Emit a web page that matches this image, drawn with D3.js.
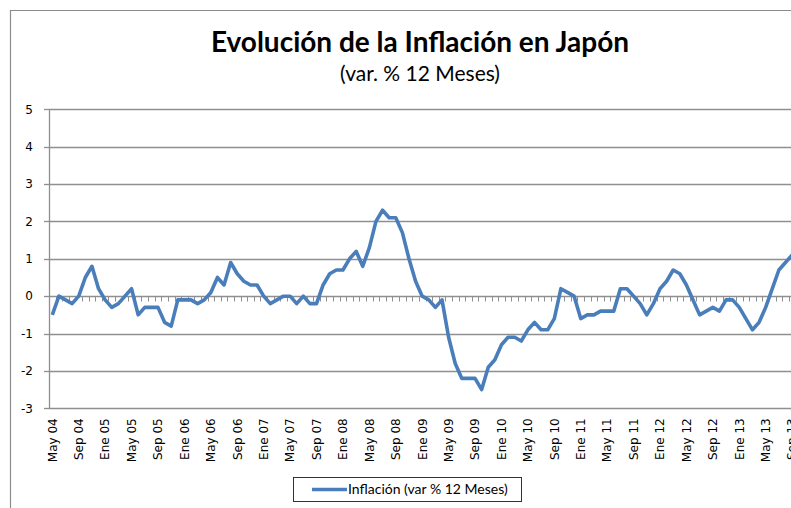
<!DOCTYPE html>
<html>
<head>
<meta charset="utf-8">
<script src="https://cdn.jsdelivr.net/npm/d3@7"></script>
<style>
  body { margin: 0; background: #fff; }
  svg { display: block; }
  .title { font-family: Lato, "Open Sans", sans-serif; font-weight: bold; font-size: 28px; fill: #000; }
  .subtitle { font-family: Lato, "Open Sans", sans-serif; font-size: 21px; fill: #000; }
  .tick-label { font-family: "DejaVu Sans", Verdana, sans-serif; font-size: 12px; fill: #000; }
  .legend-label { font-family: Lato, "Open Sans", sans-serif; font-size: 14px; fill: #000; }
</style>
</head>
<body>
<div id="chart"></div>
<script>
// serie mensual, de May 04 a Sep 13
const MESES = ['Ene', 'Feb', 'Mar', 'Abr', 'May', 'Jun', 'Jul', 'Ago', 'Sep', 'Oct', 'Nov', 'Dic'];
const START_YEAR = 2004;
const START_MONTH = 4; // May

const inflacion = [
  -0.5, 0.0, -0.1, -0.2, 0.0, 0.5, 0.8, 0.2,
  -0.1, -0.3, -0.2, 0.0, 0.2, -0.5, -0.3, -0.3, -0.3, -0.7, -0.8, -0.1,
  -0.1, -0.1, -0.2, -0.1, 0.1, 0.5, 0.3, 0.9, 0.6, 0.4, 0.3, 0.3,
  0.0, -0.2, -0.1, 0.0, 0.0, -0.2, 0.0, -0.2, -0.2, 0.3, 0.6, 0.7,
  0.7, 1.0, 1.2, 0.8, 1.3, 2.0, 2.3, 2.1, 2.1, 1.7, 1.0, 0.4,
  0.0, -0.1, -0.3, -0.1, -1.1, -1.8, -2.2, -2.2, -2.2, -2.5, -1.9, -1.7,
  -1.3, -1.1, -1.1, -1.2, -0.9, -0.7, -0.9, -0.9, -0.6, 0.2, 0.1, 0.0,
  -0.6, -0.5, -0.5, -0.4, -0.4, -0.4, 0.2, 0.2, 0.0, -0.2, -0.5, -0.2,
  0.2, 0.4, 0.7, 0.6, 0.3, -0.1, -0.5, -0.4, -0.3, -0.4, -0.1, -0.1,
  -0.3, -0.6, -0.9, -0.7, -0.3, 0.2, 0.7, 0.9, 1.1
];

const yTicks = [-3, -2, -1, 0, 1, 2, 3, 4, 5];
const LABEL_EVERY = 4;

const categorias = inflacion.map((v, i) => {
  const m = (START_MONTH + i) % 12;
  const y = START_YEAR + Math.floor((START_MONTH + i) / 12);
  return MESES[m] + ' ' + String(y % 100).padStart(2, '0');
});

const width = 791, height = 508;
const plot = { left: 49, right: 795.4, top: 109.3, bottom: 408.3 };

const svg = d3.select('#chart').append('svg')
  .attr('width', width)
  .attr('height', height);

// marco del gráfico (recortado)
svg.append('path')
  .attr('d', `M10.5,${height} V10.5 H${width}`)
  .attr('fill', 'none')
  .attr('stroke', '#8c8c8c')
  .attr('stroke-width', 1.2);

svg.append('text').attr('class', 'title')
  .attr('x', 420).attr('y', 52)
  .attr('text-anchor', 'middle')
  .text('Evolución de la Inflación en Japón');

svg.append('text').attr('class', 'subtitle')
  .attr('x', 420).attr('y', 81)
  .attr('text-anchor', 'middle')
  .text('(var. % 12 Meses)');

const x = d3.scalePoint()
  .domain(categorias)
  .range([plot.left, plot.right])
  .padding(0.5);

const y = d3.scaleLinear()
  .domain([-3, 5])
  .range([plot.bottom, plot.top]);

const step = x.step();

// líneas de la cuadrícula
svg.append('g')
  .selectAll('line')
  .data(yTicks.filter(t => t !== 0))
  .join('line')
  .attr('x1', plot.left).attr('x2', plot.right)
  .attr('y1', d => Math.round(y(d)) + 0.5)
  .attr('y2', d => Math.round(y(d)) + 0.5)
  .attr('stroke', '#8f8f8f')
  .attr('stroke-width', 1.3);

// eje vertical
const yAxis = svg.append('g');
yAxis.append('line')
  .attr('x1', plot.left + 0.5).attr('x2', plot.left + 0.5)
  .attr('y1', y(5)).attr('y2', y(-3))
  .attr('stroke', '#8f8f8f').attr('stroke-width', 1.3);
yAxis.selectAll('line.tk')
  .data(yTicks)
  .join('line').attr('class', 'tk')
  .attr('x1', plot.left - 5).attr('x2', plot.left)
  .attr('y1', d => Math.round(y(d)) + 0.5)
  .attr('y2', d => Math.round(y(d)) + 0.5)
  .attr('stroke', '#8f8f8f').attr('stroke-width', 1.3);
yAxis.selectAll('text')
  .data(yTicks)
  .join('text').attr('class', 'tick-label')
  .attr('x', 33)
  .attr('y', d => y(d))
  .attr('dy', '0.36em')
  .attr('text-anchor', 'end')
  .text(d => d);

// eje horizontal en 0 con marcas por categoría
const y0 = Math.round(y(0)) + 0.5;
svg.append('line')
  .attr('x1', plot.left).attr('x2', plot.right)
  .attr('y1', y0).attr('y2', y0)
  .attr('stroke', '#8f8f8f').attr('stroke-width', 1.3);
svg.append('g')
  .selectAll('line')
  .data(categorias)
  .join('line')
  .attr('x1', d => Math.round(x(d) + step / 2) + 0.5)
  .attr('x2', d => Math.round(x(d) + step / 2) + 0.5)
  .attr('y1', y0).attr('y2', y0 + 5)
  .attr('stroke', '#8f8f8f').attr('stroke-width', 1);

// etiquetas de categoría
svg.append('g')
  .selectAll('text')
  .data(categorias.filter((d, i) => i % LABEL_EVERY === 0))
  .join('text').attr('class', 'tick-label')
  .attr('transform', d => `translate(${x(d)},${plot.bottom + 10}) rotate(-90)`)
  .attr('dy', '0.36em')
  .attr('text-anchor', 'end')
  .text(d => d);

// serie
const line = d3.line()
  .x((d, i) => x(categorias[i]))
  .y(d => y(d));

svg.append('path')
  .datum(inflacion)
  .attr('d', line)
  .attr('fill', 'none')
  .attr('stroke', '#4a7ebb')
  .attr('stroke-width', 3.6)
  .attr('stroke-linejoin', 'round');

// leyenda
const lg = svg.append('g');
lg.append('rect')
  .attr('x', 293.5).attr('y', 477.5)
  .attr('width', 228).attr('height', 24)
  .attr('fill', '#fff')
  .attr('stroke', '#333').attr('stroke-width', 1);
lg.append('line')
  .attr('x1', 312).attr('x2', 347)
  .attr('y1', 489.5).attr('y2', 489.5)
  .attr('stroke', '#4a7ebb').attr('stroke-width', 3.6);
lg.append('text').attr('class', 'legend-label')
  .attr('x', 348).attr('y', 489.5)
  .attr('dy', '0.35em')
  .text('Inflación (var % 12 Meses)');
</script>
</body>
</html>
